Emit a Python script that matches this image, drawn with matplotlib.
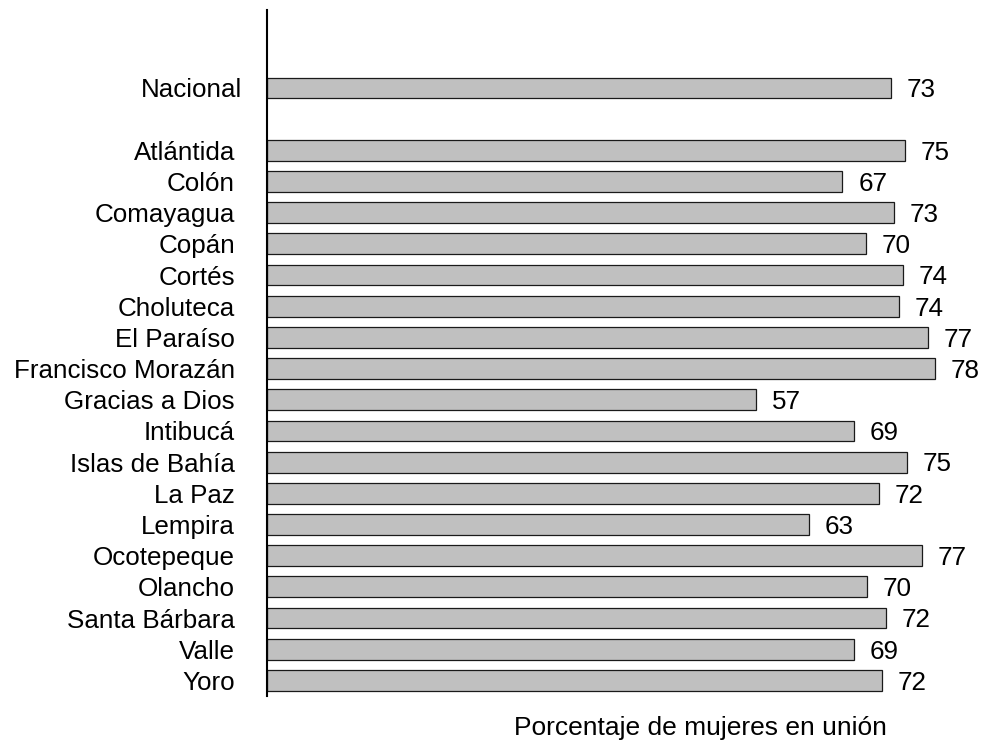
import matplotlib
matplotlib.use("Agg")
import matplotlib.pyplot as plt
from matplotlib.transforms import ScaledTranslation

plt.rcParams['font.family'] = ['Liberation Sans', 'DejaVu Sans']

categories = ["Nacional", "Atlántida", "Colón", "Comayagua", "Copán", "Cortés",
              "Choluteca", "El Paraíso", "Francisco Morazán", "Gracias a Dios",
              "Intibucá", "Islas de Bahía", "La Paz", "Lempira", "Ocotepeque",
              "Olancho", "Santa Bárbara", "Valle", "Yoro"]
values = [73.07, 74.66, 67.37, 73.37, 70.09, 74.43, 73.99, 77.39, 78.17, 57.25,
          68.70, 74.93, 71.65, 63.42, 76.66, 70.25, 72.48, 68.70, 72.00]
xlabel = "Porcentaje de mujeres en unión"

W, H = 983, 742
fig = plt.figure(figsize=(W / 100, H / 100), dpi=100)
ax_left = 267 / W
ax_bottom = 1 - 696 / H
ax_top = 1 - 10 / H
ax_w = 700 / W
ax = fig.add_axes([ax_left, ax_bottom, ax_w, ax_top - ax_bottom])

# positions: Nacional at 0, gap, then departments
positions = [0] + list(range(2, 2 + len(categories) - 1))

ax.barh(positions, values, height=0.67, color="#C0C0C0", edgecolor="#1a1a1a",
        linewidth=0.9, zorder=2)

for p, v in zip(positions, values):
    ax.annotate(f"{v:.0f}", xy=(v, p), xytext=(16, -9.3), textcoords="offset pixels",
                ha="left", va="baseline", fontsize=18.7)

ax.set_xlim(0, 700 / 8.54)
ax.set_ylim(19.5, -2.5)

ax.set_yticks(positions)
ax.set_yticklabels(categories, fontsize=18.7)
ax.tick_params(axis="y", length=0, pad=23)
ax.set_xticks([])

# Nacional label sits slightly closer to the axis
lab0 = ax.get_yticklabels()[0]
lab0.set_transform(lab0.get_transform() + ScaledTranslation(7 / 100, 0, fig.dpi_scale_trans))

for s in ["top", "right", "bottom"]:
    ax.spines[s].set_visible(False)
ax.spines["left"].set_linewidth(1.5)
ax.spines["left"].set_zorder(3)

fig.text(700.5 / W, 1 - 735 / H, xlabel, ha="center", va="baseline", fontsize=19)

fig.savefig("out.png", dpi=100)
